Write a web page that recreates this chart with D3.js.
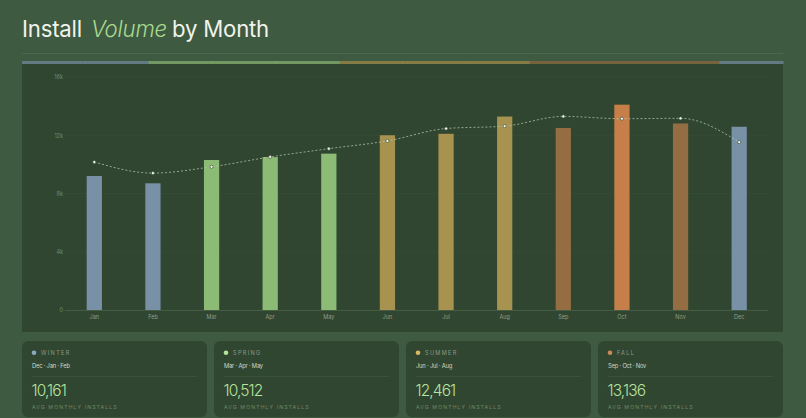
<!DOCTYPE html>
<meta charset="utf-8">
<script src="https://d3js.org/d3.v7.min.js"></script>
<style>
  html, body { margin: 0; padding: 0; background: #3e5a41; }
  svg { display: block; font-family: Inter, "Noto Sans", sans-serif; }
</style>
<div id="chart"></div>
<script>

// data
const months   = ["Jan", "Feb", "Mar", "Apr", "May", "Jun", "Jul", "Aug", "Sep", "Oct", "Nov", "Dec"];
const installs = [9200, 8700, 10300, 10500, 10736, 12000, 12100, 13283, 12500, 14100, 12808, 12583];
const trend    = [10161, 9400, 9833, 10512, 11079, 11612, 12461, 12628, 13294, 13136, 13164, 11530];
const monthSeason = ["winter", "winter", "spring", "spring", "spring", "summer", "summer", "summer", "fall", "fall", "fall", "winter"];

const seasons      = ["WINTER", "SPRING", "SUMMER", "FALL"];
const seasonMonths = [["Dec", "Jan", "Feb"], ["Mar", "Apr", "May"], ["Jun", "Jul", "Aug"], ["Sep", "Oct", "Nov"]];
const seasonAvg    = [10161, 10512, 12461, 13136];
const yTicks       = [0, 4000, 8000, 12000, 16000];

const barColor = {winter: "#7891a7", spring: "#8cbb75", summer: "#a8924f", fall: "#946e42"};
const dotColor = {WINTER: "#8fa8c2", SPRING: "#b5e29b", SUMMER: "#d9b660", FALL: "#c98a55"};
const peak = "#c77f4a";

const W = 806, H = 418;
const svg = d3.select("#chart").append("svg").attr("width", W).attr("height", H);

svg.append("rect").attr("width", W).attr("height", H).attr("fill", "#3e5a41");

// title
const title = svg.append("text").attr("x", 22).attr("y", 37)
  .attr("font-size", 22.2).attr("fill", "#f1f3ea").attr("letter-spacing", -0.2);
title.append("tspan").text("Install");
title.append("tspan").attr("dx", 9).attr("font-style", "italic").attr("fill", "#a9d98f").attr("font-weight", 300).text("Volume");
title.append("tspan").attr("dx", 5).text("by Month");

svg.append("line").attr("x1", 22).attr("x2", 783).attr("y1", 53.5).attr("y2", 53.5)
  .attr("stroke", "#4a684c").attr("stroke-width", 1);

// chart panel
const panel = {x: 22, y: 61, w: 761, h: 271};
svg.append("rect").attr("x", panel.x).attr("y", panel.y).attr("width", panel.w).attr("height", panel.h)
  .attr("fill", "#314631");

// season stripe on top of the panel (one segment per month)
const stripe = d3.scaleBand().domain(months).range([panel.x, panel.x + panel.w]);
svg.append("g").selectAll("rect").data(months).join("rect")
  .attr("x", d => stripe(d)).attr("y", panel.y).attr("width", stripe.bandwidth() + 0.5).attr("height", 3)
  .attr("fill", (d, i) => barColor[monthSeason[i]]).attr("opacity", 0.7);

const x = d3.scaleBand().domain(months).range([65, 768.5]).paddingInner(0.74).paddingOuter(0.37);
const y = d3.scaleLinear().domain([0, 16000]).range([310, 77]);

// grid
svg.append("g").selectAll("line").data(yTicks.slice(1)).join("line")
  .attr("x1", 65).attr("x2", 768).attr("y1", d => y(d)).attr("y2", d => y(d))
  .attr("stroke", "#3c553e").attr("stroke-width", 0.6).attr("stroke-dasharray", "2,2");

// y axis
const yAxis = svg.append("g").attr("transform", "translate(63,0)")
  .call(d3.axisLeft(y).tickValues(yTicks).tickSize(0).tickPadding(0)
    .tickFormat(d => d === 0 ? "0" : d / 1000 + "k"));
yAxis.select(".domain").remove();
yAxis.selectAll("text").attr("font-size", 5.5).attr("fill", "#72896f").attr("font-family", "Inter, sans-serif");

// bars
svg.append("g").selectAll("rect").data(installs).join("rect")
  .attr("x", (d, i) => x(months[i])).attr("width", x.bandwidth())
  .attr("y", d => y(d)).attr("height", d => y(0) - y(d))
  .attr("fill", (d, i) => d === d3.max(installs) ? peak : barColor[monthSeason[i]]);

// baseline + x axis
svg.append("line").attr("x1", 65).attr("x2", 768).attr("y1", y(0) + 0.5).attr("y2", y(0) + 0.5)
  .attr("stroke", "#4a634a").attr("stroke-width", 0.8);
const xAxis = svg.append("g").attr("transform", `translate(0,${y(0) + 3})`)
  .call(d3.axisBottom(x).tickSize(0).tickPadding(2));
xAxis.select(".domain").remove();
xAxis.selectAll("text").attr("font-size", 5.5).attr("fill", "#8d9e89").attr("font-family", "Inter, sans-serif");

// trend line
const line = d3.line()
  .x((d, i) => x(months[i]) + x.bandwidth() / 2)
  .y(d => y(d))
  .curve(d3.curveMonotoneX);
svg.append("path").datum(trend).attr("d", line)
  .attr("fill", "none").attr("stroke", "#b3c6ab").attr("stroke-width", 0.9)
  .attr("stroke-dasharray", "2,2").attr("opacity", 0.85);
svg.append("g").selectAll("circle").data(trend).join("circle")
  .attr("cx", (d, i) => x(months[i]) + x.bandwidth() / 2).attr("cy", d => y(d))
  .attr("r", 1.6).attr("fill", "#eef2e6").attr("stroke", "#314631").attr("stroke-width", 0.6);

// season cards
const card = d3.scaleBand().domain(seasons).range([22, 783 + 7]).paddingInner(0);
const cardW = card.bandwidth() - 7;
const cards = svg.append("g").selectAll("g").data(seasons).join("g")
  .attr("transform", d => `translate(${card(d)},341)`);

cards.append("rect").attr("width", cardW).attr("height", 76).attr("rx", 6).attr("fill", "#314631");
cards.append("circle").attr("cx", 12).attr("cy", 11.8).attr("r", 2.3).attr("fill", d => dotColor[d]);
cards.append("text").attr("x", 19).attr("y", 13.8).text(d => d)
  .attr("font-size", 5.6).attr("letter-spacing", 1.3).attr("fill", "#8a9b86");
cards.append("text").attr("x", 10).attr("y", 27).text((d, i) => seasonMonths[i].join(" · "))
  .attr("font-size", 5.8).attr("letter-spacing", -0.2).attr("fill", "#cfd8c7");
cards.append("line").attr("x1", 10).attr("x2", cardW - 10).attr("y1", 35.5).attr("y2", 35.5)
  .attr("stroke", "#3c543d").attr("stroke-width", 0.8);
cards.append("text").attr("x", 9.5).attr("y", 55).text((d, i) => d3.format(",")(seasonAvg[i]))
  .attr("font-size", 15.5).attr("font-weight", 300).attr("letter-spacing", -0.9).attr("fill", "#b7e39e");
cards.append("text").attr("x", 10).attr("y", 67.5).text("AVG MONTHLY INSTALLS")
  .attr("font-size", 5.2).attr("letter-spacing", 1.1).attr("fill", "#6d8a69");

</script>
